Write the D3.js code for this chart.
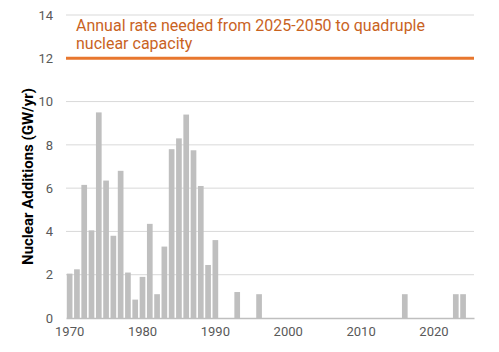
<!DOCTYPE html>
<html>
<head>
<meta charset="utf-8">
<script src="https://cdn.jsdelivr.net/npm/d3@7"></script>
<style>
  body { margin: 0; background: #fff; }
  text { font-family: Roboto, "Noto Sans", sans-serif; }
</style>
</head>
<body>
<div id="drawing"></div>
<script>
const width = 499;
const height = 352;
const margin = {top: 15, right: 25, bottom: 34, left: 66};

// years 1970..2025 (one band per year)
const years = d3.range(1970, 2026);
// GW added per year
const additions = [
  2.05, 2.25, 6.15, 4.05, 9.5, 6.35, 3.8, 6.8, 2.1, 0.85,
  1.9, 4.35, 1.1, 3.3, 7.8, 8.3, 9.4, 7.75, 6.1, 2.45,
  3.6, 0, 0, 1.2, 0, 0, 1.1, 0, 0, 0,
  0, 0, 0, 0, 0, 0, 0, 0, 0, 0,
  0, 0, 0, 0, 0, 0, 1.1, 0, 0, 0,
  0, 0, 0, 1.1, 1.1, 0
];
const yTicks = [0, 2, 4, 6, 8, 10, 12, 14];
const xTicks = [1970, 1980, 1990, 2000, 2010, 2020];
const targetRate = 12;
const targetLabel = ["Annual rate needed from 2025-2050 to quadruple", "nuclear capacity"];

const svg = d3.select("#drawing").append("svg")
  .attr("width", width)
  .attr("height", height);

const xScale = d3.scaleBand()
  .domain(years)
  .range([margin.left, width - margin.right])
  .paddingInner(0.22)
  .paddingOuter(0.11);

const yScale = d3.scaleLinear()
  .domain([0, 14])
  .range([height - margin.bottom, margin.top]);

// gridlines
svg.append("g")
  .selectAll("line")
  .data(yTicks.filter(d => d > 0))
  .join("line")
    .attr("x1", margin.left)
    .attr("x2", width - margin.right)
    .attr("y1", d => yScale(d))
    .attr("y2", d => yScale(d))
    .attr("stroke", "#d9d9d9")
    .attr("stroke-width", 1);

// y axis labels
const yAxis = svg.append("g")
  .attr("transform", `translate(${margin.left},0)`)
  .call(d3.axisLeft(yScale).tickValues(yTicks).tickSize(0).tickPadding(13));
yAxis.select(".domain").remove();
yAxis.selectAll("text")
  .style("font-size", "13px")
  .style("font-family", "Roboto, sans-serif")
  .attr("fill", "#595959");

// bars
svg.append("g")
  .selectAll("rect")
  .data(years.map((y, i) => ({year: y, value: additions[i]})).filter(d => d.value > 0))
  .join("rect")
    .attr("x", d => xScale(d.year))
    .attr("y", d => yScale(d.value))
    .attr("width", xScale.bandwidth())
    .attr("height", d => yScale(0) - yScale(d.value))
    .attr("fill", "#bfbfbf");

// x axis
const xAxis = svg.append("g")
  .attr("transform", `translate(0,${yScale(0)})`)
  .call(d3.axisBottom(xScale).tickValues(xTicks).tickSize(0).tickPadding(9));
xAxis.select(".domain")
  .attr("stroke", "#bfbfbf")
  .attr("stroke-width", 1.3);
xAxis.selectAll("text")
  .style("font-size", "13px")
  .style("font-family", "Roboto, sans-serif")
  .attr("fill", "#595959");

// target line
svg.append("line")
  .attr("x1", margin.left)
  .attr("x2", width - margin.right)
  .attr("y1", yScale(targetRate))
  .attr("y2", yScale(targetRate))
  .attr("stroke", "#e8772e")
  .attr("stroke-width", 3);

svg.append("text")
  .attr("x", 76)
  .attr("y", 31)
  .attr("fill", "#c9631f")
  .style("font-size", "16px")
  .selectAll("tspan")
  .data(targetLabel)
  .join("tspan")
    .attr("x", 76)
    .attr("dy", (d, i) => i === 0 ? 0 : 18)
    .text(d => d);

// y axis title
svg.append("text")
  .attr("transform", `translate(33,${(margin.top + height - margin.bottom) / 2 + 10}) rotate(-90)`)
  .attr("text-anchor", "middle")
  .attr("fill", "#000")
  .style("font-size", "15px")
  .style("font-weight", "bold")
  .text("Nuclear Additions (GW/yr)");
</script>
</body>
</html>
